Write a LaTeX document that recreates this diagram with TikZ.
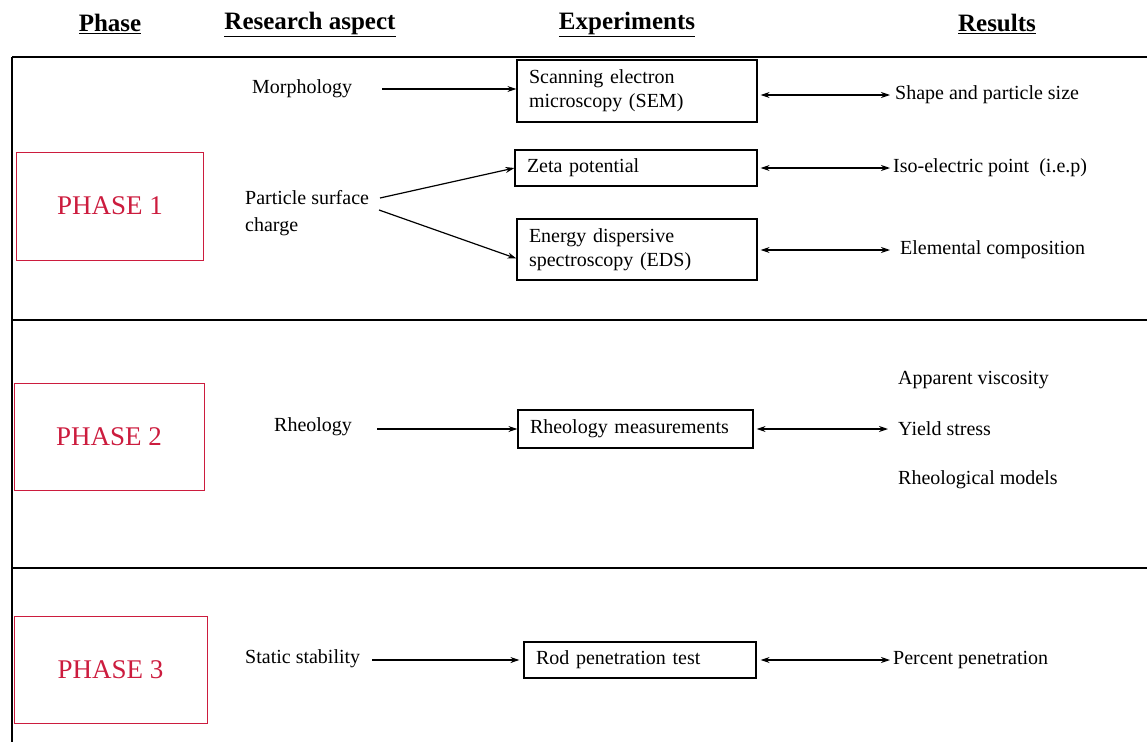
\documentclass[tikz,border=0pt]{standalone}
\usepackage{fontspec}
\setmainfont{Liberation Serif}
\usetikzlibrary{calc,arrows,arrows.meta}
\usepackage{xcolor}
\definecolor{phasered}{RGB}{204,28,62}

\begin{document}
\begin{tikzpicture}[x=1pt,y=-1pt,
		txt/.style={inner sep=0pt,anchor=west,align=left,font=\fontsize{20}{27}\selectfont},
		head/.style={inner sep=0pt,font=\fontsize{25}{30}\selectfont\bfseries},
		expbox/.style={draw,line width=1.2pt,align=left,inner xsep=12pt,inner ysep=0pt,font=\fontsize{20}{24}\selectfont},
		phasebox/.style={draw=phasered,text=phasered,line width=1pt,minimum width=190pt,minimum height=107pt,font=\fontsize{27}{30}\selectfont},
		arr/.style={-{Stealth[length=9pt,width=6pt]},line width=1.2pt},
		biarr/.style={{Stealth[length=9pt,width=6pt]}-{Stealth[length=9pt,width=6pt]},line width=1.2pt}]
		\useasboundingbox (0,0) rectangle (1147,742);
		
		% frame of the table
		\coordinate (TL) at (12,57);
		\coordinate (TR) at (1147,57);
		\draw[line width=2pt] (TL) -- (TR);
		\draw[line width=1.4pt] (TL) -- (12,742);
		\draw[line width=2pt] (12,320) -- (1147,320);
		\draw[line width=2pt] (12,568) -- (1147,568);
		
		\node[head] (hphase) at (110,24) {\underline{Phase}};
		\node[head] (haspect) at (310,24) {\underline{Research aspect}};
		\node[head] (hexp) at (627,24) {\underline{Experiments}};
		\node[head] (hres) at (997,24) {\underline{Results}};
		
		% phase 1
		\node[phasebox,minimum width=187pt,minimum height=108pt] (ph1) at (110,206) {PHASE 1};
		\node[txt] (morph) at (252,89) {Morphology};
		\node[expbox,text width=216pt,minimum height=62pt] (sem) at (637,91) {Scanning electron\\microscopy (SEM)};
		\node[txt] (shape) at (895,95) {Shape and particle size};
		\draw[arr] ([xshift=30pt]morph.east) -- (sem.west |- morph.east);
		\draw[biarr,shorten >=5pt] ([xshift=3pt]sem.east |- shape.west) -- (shape.west);
		
		\node[txt] (psc) at (245,213) {Particle surface\\charge};
		\coordinate (psca) at (380,198);
		\coordinate (pscb) at (379,210);
		\node[expbox,text width=218pt,minimum height=36pt] (zeta) at (636,168) {Zeta potential};
		\node[txt] (iep) at (893,168) {Iso-electric point\ \ (i.e.p)};
		\node[expbox,text width=216pt,minimum height=61pt] (eds) at (637,249.5) {Energy dispersive\\spectroscopy (EDS)};
		\node[txt] (elem) at (900,250) {Elemental composition};
		\draw[arr] (psca) -- (zeta.west);
		\draw[arr] (pscb) -- ([yshift=-9pt]eds.west);
		\draw[biarr,shorten >=3pt] ([xshift=3pt]zeta.east |- iep.west) -- (iep.west);
		\draw[biarr,shorten >=10pt] ([xshift=3pt]eds.east |- elem.west) -- (elem.west);
		
		% phase 2
		\node[phasebox] (ph2) at (109,437) {PHASE 2};
		\node[txt] (rheo) at (274,427) {Rheology};
		\node[expbox,text width=211pt,minimum height=38pt] (rmeas) at (635.5,429) {Rheology measurements};
		\node[txt] (visc) at (898,380) {Apparent viscosity};
		\node[txt] (yield) at (898,429) {Yield stress};
		\node[txt] (models) at (898,480) {Rheological models};
		\draw[arr] ([xshift=25pt]rheo.east |- rmeas.west) -- (rmeas.west);
		\draw[biarr,shorten >=10pt] ([xshift=3pt]rmeas.east) -- (yield.west);
		
		% phase 3
		\node[phasebox,minimum width=193pt] (ph3) at (110.5,669.5) {PHASE 3};
		\node[txt] (stat) at (245,659) {Static stability};
		\node[expbox,text width=208pt,minimum height=36pt] (rod) at (640,660) {Rod penetration test};
		\node[txt] (perc) at (893,660) {Percent penetration};
		\draw[arr,shorten >=4pt] ([xshift=12pt]stat.east |- rod.west) -- (rod.west);
		\draw[biarr,shorten >=3pt] ([xshift=4pt]rod.east |- perc.west) -- (perc.west);
\end{tikzpicture}
\end{document}
